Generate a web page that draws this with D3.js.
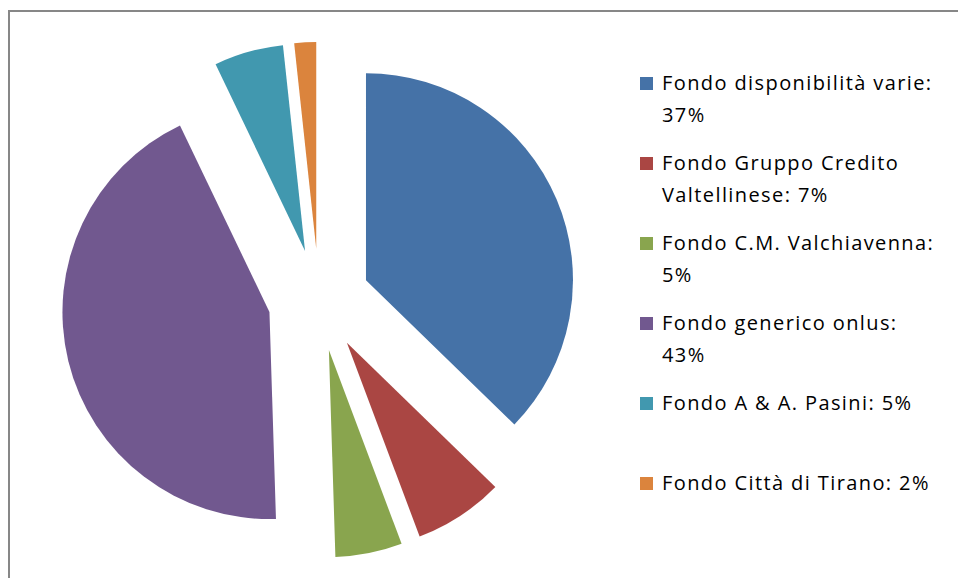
<!DOCTYPE html>
<html>
<head>
<meta charset="utf-8">
<script src="https://cdn.jsdelivr.net/npm/d3@7"></script>
<style>
  body { margin:0; background:#fff; }
  .chart { width:958px; height:578px; }
  text { font-family: "Open Sans", Lato, sans-serif; fill:#000; }
</style>
</head>
<body>
<div class="chart"></div>
<script>
//Data (share of each fund, %)
const categories = ['Fondo disponibilità varie','Fondo Gruppo Credito Valtellinese','Fondo C.M. Valchiavenna','Fondo generico onlus','Fondo A & A. Pasini','Fondo Città di Tirano'];
const values = [37.2, 7.0, 5.2, 43.3, 5.4, 1.7];
const percentLabels = ['37%','7%','5%','43%','5%','2%'];
//legend lines as wrapped in the original
const legendLines = [
	['Fondo disponibilità varie:','37%'],
	['Fondo Gruppo Credito','Valtellinese: 7%'],
	['Fondo C.M. Valchiavenna:','5%'],
	['Fondo generico onlus:','43%'],
	['Fondo A & A. Pasini: 5%'],
	['Fondo Città di Tirano: 2%']
];
const colors = ['#4572A7','#AA4643','#89A54E','#71588F','#4198AF','#DB843D'];

const W = 958, H = 578;
const svg = d3.select('.chart')
	.append('svg')
		.attr('width', W)
		.attr('height', H);

//chart area border (right and bottom edges fall outside the picture)
svg.append('rect')
	.attr('x', 9).attr('y', 11)
	.attr('width', W).attr('height', H)
	.style('fill','none')
	.style('stroke','#878787')
	.style('stroke-width', 2);

const cx = 319, cy = 300, R = 207, explode = 51;

const pie = d3.pie().sort(null).value(function(d){return d.value});
const arc = d3.arc().innerRadius(0).outerRadius(R);
const color = d3.scaleOrdinal().domain(categories).range(colors);

const rows = categories.map(function(c,i){
	return {name:c, value:values[i], pct:percentLabels[i], lines:legendLines[i]};
});

const plot = svg.append('g')
	.attr('transform', `translate(${cx}, ${cy})`);

plot.selectAll('.slice')
	.data(pie(rows))
	.enter()
	.append('path').attr('class','slice')
	.attr('transform', function(d){
		const mid = (d.startAngle + d.endAngle)/2;
		return `translate(${explode*Math.sin(mid)}, ${-explode*Math.cos(mid)})`;
	})
	.attr('d', arc)
	.style('fill', function(d){return color(d.data.name)});

//Legend
const legendY = d3.scaleLinear().domain([0,1]).range([77, 157]);
const legend = svg.append('g').attr('class','legend');

const items = legend.selectAll('.item')
	.data(rows)
	.enter()
	.append('g').attr('class','item')
	.attr('transform', function(d,i){return `translate(640, ${legendY(i)})`});

items.append('rect')
	.attr('width', 13).attr('height', 13)
	.style('fill', function(d){return color(d.name)});

items.append('text')
	.attr('x', 22)
	.attr('y', 13)
	.style('font-size','20px')
	.style('letter-spacing','1.4px')
	.selectAll('tspan')
	.data(function(d){return d.lines})
	.enter()
	.append('tspan')
		.attr('x', 22)
		.attr('dy', function(d,i){return i===0 ? 0 : 32})
		.text(function(d){return d});
</script>
</body>
</html>
